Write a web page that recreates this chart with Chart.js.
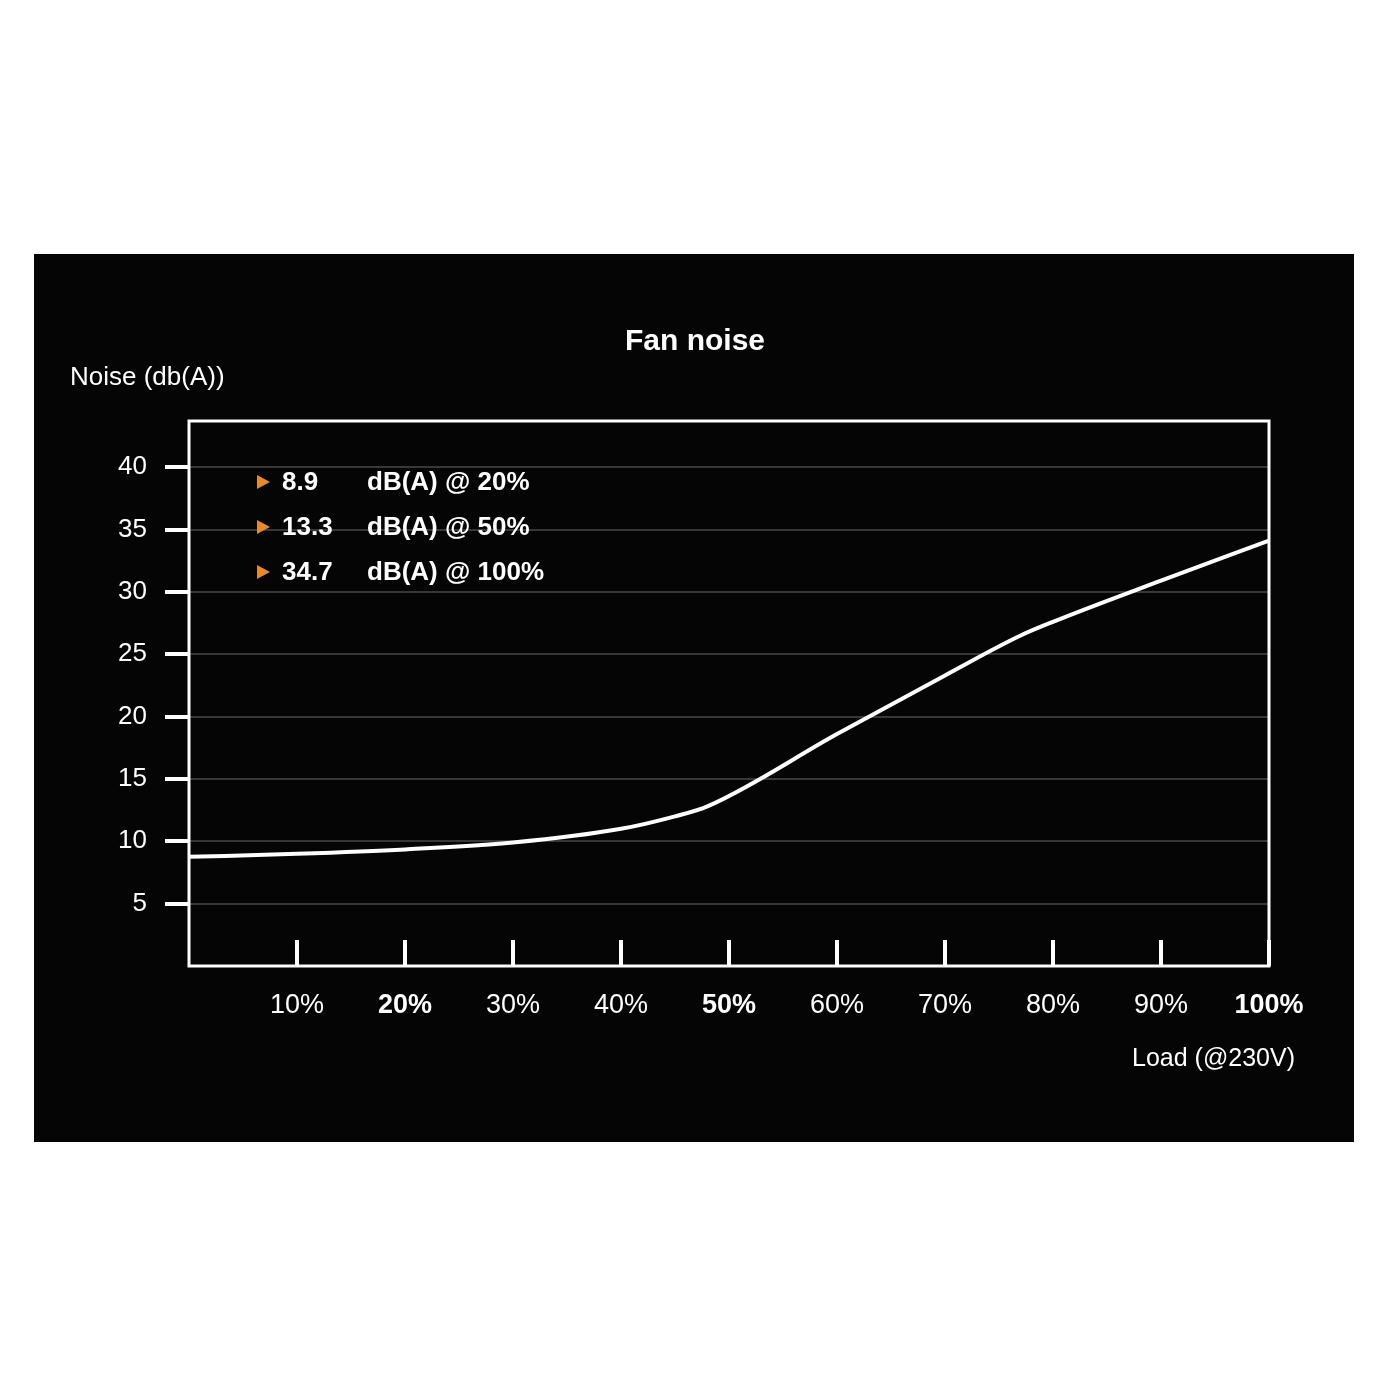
<!DOCTYPE html>
<html>
<head>
<meta charset="utf-8">
<title>Fan noise</title>
<script src="https://cdn.jsdelivr.net/npm/chart.js@4.4.1/dist/chart.umd.min.js"></script>
<style>
  html, body { margin: 0; padding: 0; background: #ffffff; }
  body { width: 1400px; height: 1400px; position: relative; }
  #panel {
    position: absolute; left: 34px; top: 254px;
    width: 1320px; height: 888px; background: #050505;
  }
</style>
</head>
<body>
<div id="panel"><canvas id="noiseCanvas" width="1320" height="888"></canvas></div>
<script>
// Load in percent and the measured fan noise in dB(A)
const loadPct = [0, 10, 20, 30, 40, 45, 48, 60, 70, 77, 80, 90, 100];
const noiseDb = [8.75, 9.0, 9.35, 9.9, 11.0, 12.0, 12.8, 18.6, 23.3, 26.5, 27.6, 30.9, 34.1];

// Axis ticks
const yTicks = [5, 10, 15, 20, 25, 30, 35, 40];
const xTicks = [10, 20, 30, 40, 50, 60, 70, 80, 90, 100];
const boldLoads = [20, 50, 100];

// Key figures printed in the top left corner
const noteValues = ['8.9', '13.3', '34.7'];
const noteLabels = ['dB(A) @ 20%', 'dB(A) @ 50%', 'dB(A) @ 100%'];

const FONT = '"Liberation Sans", Arial, Helvetica, sans-serif';

// Draws the white frame, inward x ticks and the free texts
const decorPlugin = {
    id: 'decor',
    afterDraw(chart) {
        const ctx = chart.ctx;
        const a = chart.chartArea;
        const xs = chart.scales.x;
        ctx.save();

        // inward tick marks on the bottom axis
        ctx.strokeStyle = '#ffffff';
        ctx.lineWidth = 4;
        xTicks.forEach(v => {
            const px = xs.getPixelForValue(v);
            ctx.beginPath();
            ctx.moveTo(px, a.bottom);
            ctx.lineTo(px, a.bottom - 26);
            ctx.stroke();
        });

        // frame round the plot
        ctx.lineWidth = 3;
        ctx.strokeRect(a.left, a.top, a.right - a.left, a.bottom - a.top);

        ctx.fillStyle = '#ffffff';
        ctx.textBaseline = 'middle';

        // title
        ctx.font = 'bold 30px ' + FONT;
        ctx.textAlign = 'center';
        ctx.fillText('Fan noise', 661, 88);

        // axis titles
        ctx.font = '26px ' + FONT;
        ctx.textAlign = 'left';
        ctx.fillText('Noise (db(A))', 36, 124);
        ctx.font = '25px ' + FONT;
        ctx.textAlign = 'right';
        ctx.fillText('Load (@230V)', 1261, 805);

        // key figures
        noteValues.forEach((val, i) => {
            const y = 228 + i * 45;
            ctx.fillStyle = '#e8892a';
            ctx.beginPath();
            ctx.moveTo(223, y - 7);
            ctx.lineTo(236, y);
            ctx.lineTo(223, y + 7);
            ctx.closePath();
            ctx.fill();

            ctx.fillStyle = '#ffffff';
            ctx.font = 'bold 26px ' + FONT;
            ctx.textAlign = 'left';
            ctx.fillText(val, 248, y + 1);
            ctx.fillText(noteLabels[i], 333, y + 1);
        });

        ctx.restore();
    }
};

const noiseCanvas = document.getElementById('noiseCanvas');
const ctx2 = noiseCanvas.getContext('2d');

let noiseChart = new Chart(ctx2, {
    type: 'line',
    data: {
        datasets: [{
            label: 'Fan noise',
            data: loadPct.map((x, i) => ({ x: x, y: noiseDb[i] })),
            borderColor: '#ffffff',
            borderWidth: 4,
            pointRadius: 0,
            fill: false,
            cubicInterpolationMode: 'monotone'
        }]
    },
    options: {
        responsive: false,
        animation: false,
        layout: {
            padding: { left: 0, top: 167, right: 85, bottom: 0 }
        },
        scales: {
            x: {
                type: 'linear',
                min: 0,
                max: 100,
                afterBuildTicks: scale => { scale.ticks = xTicks.map(v => ({ value: v })); },
                afterFit: scale => { scale.height = 176; },
                border: { display: false },
                grid: { display: false, drawTicks: false },
                ticks: {
                    color: '#ffffff',
                    padding: 23,
                    maxRotation: 0,
                    autoSkip: false,
                    callback: v => v + '%',
                    font: ctx => ({
                        family: FONT,
                        size: 27,
                        weight: ctx.tick && boldLoads.includes(ctx.tick.value) ? 'bold' : 'normal'
                    })
                }
            },
            y: {
                min: 0,
                max: 43.7,
                afterBuildTicks: scale => { scale.ticks = yTicks.map(v => ({ value: v })); },
                afterFit: scale => { scale.width = 155; },
                border: { display: false },
                grid: {
                    color: 'rgba(255,255,255,0.2)',
                    lineWidth: 2,
                    tickColor: '#ffffff',
                    tickWidth: 4,
                    tickLength: 24
                },
                ticks: {
                    color: '#ffffff',
                    padding: 18,
                    font: { family: FONT, size: 26 }
                }
            }
        },
        plugins: {
            legend: { display: false },
            tooltip: { enabled: false }
        }
    },
    plugins: [decorPlugin]
});
</script>
</body>
</html>
